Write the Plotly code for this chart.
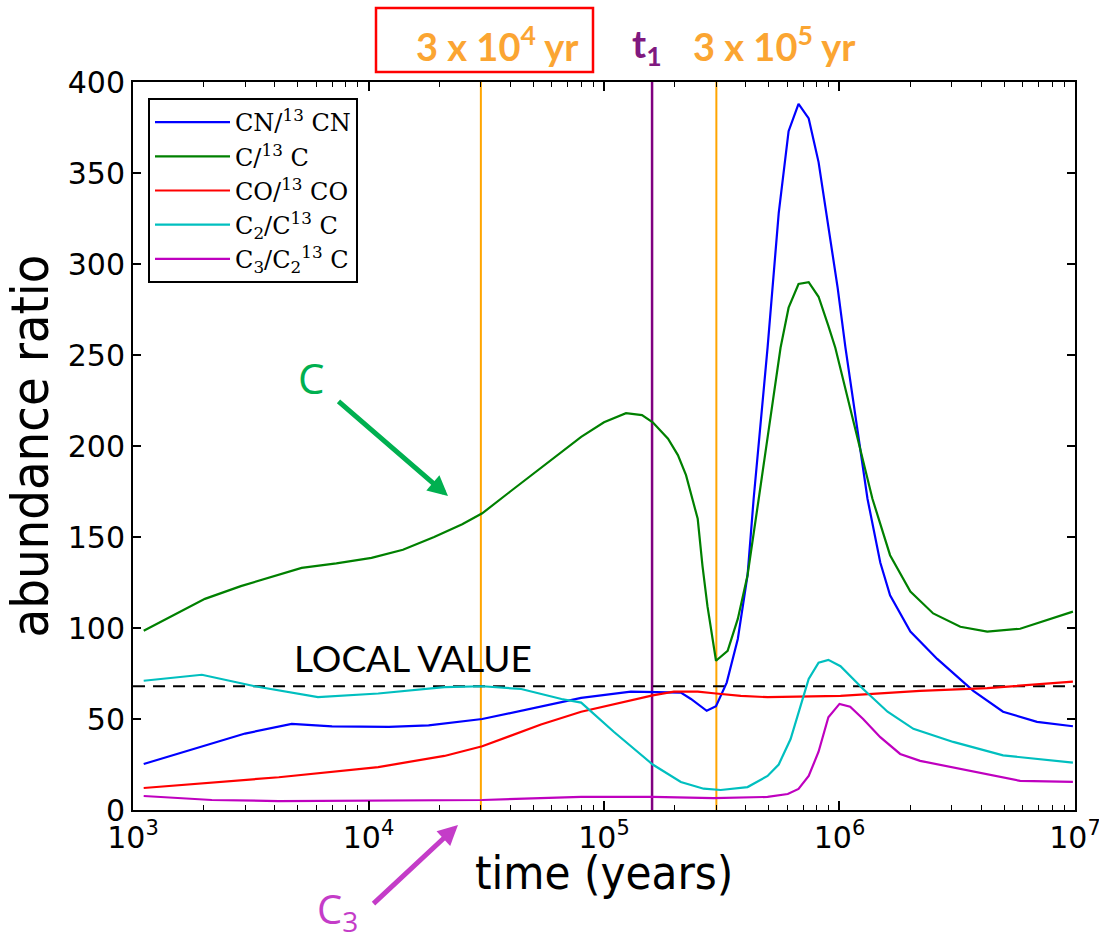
import plotly.graph_objects as go

# ---------------- data ----------------
cn_t = [1.11e3, 1.96e3, 2.99e3, 4.72e3, 7.0e3, 1.22e4, 1.8e4, 3.04e4, 5.0e4, 8.0e4,
        1.3e5, 2.12e5, 2.34e5, 2.73e5, 2.99e5, 3.32e5, 3.70e5, 4.07e5, 4.32e5, 4.95e5,
        5.52e5, 6.08e5, 6.70e5, 7.40e5, 8.15e5, 8.97e5, 9.82e5, 1.06e6, 1.315e6, 1.49e6,
        1.64e6, 2.0e6, 2.6e6, 3.7e6, 4.95e6, 6.9e6, 9.8e6]
cn_v = [25.3, 34.7, 42.0, 47.3, 46.0, 45.7, 46.5, 50.0, 56.0, 61.6,
        65.0, 64.5, 61.0, 54.5, 57.0, 70.0, 94.0, 129.0, 171.0, 254.0,
        328.0, 373.0, 388.0, 380.0, 356.0, 321.0, 287.0, 254.0, 171.0, 136.0,
        118.0, 98.0, 83.0, 65.5, 54.0, 48.4, 46.0]

c_t = [1.11e3, 2.02e3, 2.87e3, 4.06e3, 5.2e3, 7.3e3, 1.03e4, 1.4e4, 1.9e4, 2.5e4,
       3.04e4, 4.0e4, 5.4e4, 6.6e4, 8.0e4, 1.0e5, 1.24e5, 1.45e5,
       1.61e5, 1.87e5, 2.06e5, 2.23e5, 2.38e5, 2.5e5, 2.62e5, 2.75e5, 2.99e5, 3.35e5,
       3.70e5, 4.07e5, 4.54e5, 5.62e5, 6.08e5, 6.70e5, 7.40e5, 8.15e5, 8.97e5, 9.6e5,
       1.38e6, 1.64e6, 2.0e6, 2.5e6, 3.26e6, 4.24e6, 5.85e6, 9.8e6]
c_v = [98.5, 116.0, 123.0, 129.0, 133.0, 135.5, 138.5, 143.0, 150.0, 157.0,
       163.0, 175.0, 188.0, 197.0, 205.0, 213.0, 218.0, 217.0,
       213.0, 204.0, 195.0, 184.0, 171.0, 160.0, 134.0, 112.0, 82.0, 87.5,
       105.0, 129.0, 171.0, 254.0, 276.0, 289.0, 290.0, 282.0, 266.0, 254.0,
       171.0, 140.0, 120.0, 108.0, 100.7, 98.0, 99.6, 109.0]

co_t = [1.11e3, 4.16e3, 1.1e4, 2.1e4, 3.04e4, 5.4e4, 8.0e4, 1.61e5, 1.98e5, 2.5e5,
        2.99e5, 3.81e5, 4.95e5, 1.01e6, 2.2e6, 4.24e6, 9.8e6]
co_v = [12.1, 18.0, 23.6, 29.7, 35.0, 47.0, 54.0, 63.0, 65.0, 65.0,
        64.0, 62.7, 62.0, 62.7, 65.5, 67.0, 70.5]

c2_t = [1.11e3, 1.96e3, 3.29e3, 6.1e3, 1.1e4, 2.1e4, 3.04e4, 4.45e4, 6.6e4, 8.0e4,
        1.1e5, 1.61e5, 2.12e5, 2.65e5, 3.13e5, 4.07e5, 4.95e5, 5.52e5, 6.2e5, 6.70e5,
        7.40e5, 8.15e5, 8.97e5, 1.01e6, 1.26e6, 1.6e6, 2.06e6, 3.04e6, 4.95e6, 9.8e6]
c2_v = [71.0, 74.3, 68.0, 62.0, 64.0, 67.5, 68.0, 66.5, 61.0, 59.0,
        43.0, 25.0, 15.4, 11.7, 11.0, 12.6, 18.7, 25.0, 39.0, 54.0,
        72.0, 81.0, 82.5, 79.0, 66.5, 54.0, 44.6, 37.4, 30.0, 26.0]

c3_t = [1.11e3, 2.16e3, 4.16e3, 1.1e4, 3.04e4, 8.0e4, 1.61e5, 2.92e5, 4.95e5, 6.03e5,
        6.70e5, 7.40e5, 8.15e5, 8.97e5, 1.0e6, 1.11e6, 1.26e6, 1.49e6, 1.81e6, 2.2e6,
        3.59e6, 5.85e6, 9.8e6]
c3_v = [7.7, 5.5, 4.9, 5.0, 5.5, 7.2, 7.2, 6.5, 7.2, 8.8,
        11.6, 18.7, 32.0, 51.0, 58.3, 56.7, 50.0, 40.0, 30.8, 27.0,
        21.5, 16.0, 15.4]

local_value = 68.0
t_marks_orange = [3e4, 3e5]
t1_mark = 1.6e5

x_range_exp = [2.9999, 7.0001]
y_range = [0, 400]
x_tickvals = [1e3, 1e4, 1e5, 1e6, 1e7]
x_ticktext = ["10<sup>3</sup>", "10<sup>4</sup>", "10<sup>5</sup>", "10<sup>6</sup>", "10<sup>7</sup>"]
y_tickvals = [0, 50, 100, 150, 200, 250, 300, 350, 400]
minor_vals = [m * 10 ** e for e in range(3, 7) for m in range(2, 10)]

series = [
    ("CN/<sup>13</sup> CN", cn_t, cn_v, "#0000FF"),
    ("C/<sup>13</sup> C", c_t, c_v, "#008000"),
    ("CO/<sup>13</sup> CO", co_t, co_v, "#FF0000"),
    ("C<sub>2</sub>/C<sup>13</sup> C", c2_t, c2_v, "#00BFBF"),
    ("C<sub>3</sub>/C<sub>2</sub><sup>13</sup> C", c3_t, c3_v, "#BF00BF"),
]

# ---------------- layout geometry ----------------
W, H = 1099, 939
ML, MR, MT, MB = 133, 24, 82, 129
PW, PH = W - ML - MR, H - MT - MB


def px(x):
    return (x - ML) / PW


def py(y):
    return (H - MB - y) / PH


fig = go.Figure()

# vertical marker lines
for tm in t_marks_orange:
    fig.add_trace(go.Scatter(x=[tm, tm], y=y_range, mode="lines",
                             line=dict(color="#FFA500", width=2), showlegend=False,
                             hoverinfo="skip"))
fig.add_trace(go.Scatter(x=[t1_mark, t1_mark], y=y_range, mode="lines",
                         line=dict(color="#800080", width=2.5), showlegend=False,
                         hoverinfo="skip"))

# local value dashed line
fig.add_trace(go.Scatter(x=[10 ** 3, 10 ** 7],
                         y=[local_value, local_value], mode="lines",
                         line=dict(color="black", width=2, dash="12px,8px"),
                         showlegend=False, hoverinfo="skip"))

for name, t, v, col in series:
    fig.add_trace(go.Scatter(x=t, y=v, mode="lines", name=name,
                             line=dict(color=col, width=2.2)))

axis_common = dict(showline=True, linecolor="black", linewidth=2, mirror="allticks",
                   ticks="inside", tickcolor="black", showgrid=False, zeroline=False,
                   ticklabeloverflow="allow", automargin=False,
                   tickfont=dict(family="DejaVu Sans", size=30, color="black"))

fig.update_xaxes(type="log", range=x_range_exp, tickvals=x_tickvals, ticktext=x_ticktext,
                 ticklen=9, tickwidth=1.5,
                 minor=dict(ticks="inside", tickvals=minor_vals, ticklen=5, tickcolor="black",
                            tickwidth=1),
                 **axis_common)
fig.update_yaxes(range=y_range, tickvals=y_tickvals, ticklen=8, tickwidth=1.5,
                 title=dict(text="abundance ratio", font=dict(family="DejaVu Sans Condensed", size=52,
                                                             color="black"), standoff=4),
                 **axis_common)


def label(text, x, y, size, color, family="Lato"):
    return dict(text=text, x=px(x), y=py(y), xref="paper", yref="paper",
                xanchor="center", yanchor="middle", showarrow=False,
                font=dict(family=family, size=size, color=color))


def arrow(x_head, y_head, x_tail, y_tail, color):
    return dict(text="", x=px(x_head), y=py(y_head), xref="paper", yref="paper",
                showarrow=True, ax=x_tail - x_head, ay=y_tail - y_head,
                arrowcolor=color, arrowwidth=5, arrowhead=2, arrowsize=0.8)


annotations = [
    label("<b>3 x 10<sup>4</sup> yr</b>", 497, 44, 38, "#FBA532"),
    label("<b>t<sub>1</sub></b>", 647, 46, 38, "#80197F"),
    label("<b>3 x 10<sup>5</sup> yr</b>", 774, 44, 38, "#FBA532"),
    label("LOCAL VALUE", 413, 657, 37, "black"),
    label("time (years)", 604, 873, 47, "black", "DejaVu Sans Condensed"),
    label("C", 311, 377, 42, "#00B050", "Open Sans"),
    arrow(448, 496, 337, 400, "#00B050"),
    label("C<sub>3</sub>", 337, 910, 40, "#C43CC8", "Open Sans"),
    arrow(458, 825, 372, 905, "#C43CC8"),
]

shapes = [dict(type="rect", xref="paper", yref="paper", x0=px(376), x1=px(593),
               y0=py(72), y1=py(8), line=dict(color="#FF0000", width=2.5))]

fig.update_layout(
    width=W, height=H, margin=dict(l=ML, r=MR, t=MT, b=MB, autoexpand=False),
    paper_bgcolor="white", plot_bgcolor="white",
    annotations=annotations, shapes=shapes,
    legend=dict(x=px(148), y=py(98), xanchor="left", yanchor="top",
                bordercolor="black", borderwidth=2, bgcolor="white",
                font=dict(family="DejaVu Serif", size=24, color="black"),
                tracegroupgap=0, itemwidth=75, entrywidth=230, entrywidthmode="pixels"),
    showlegend=True,
)

fig.write_html("out.html")
